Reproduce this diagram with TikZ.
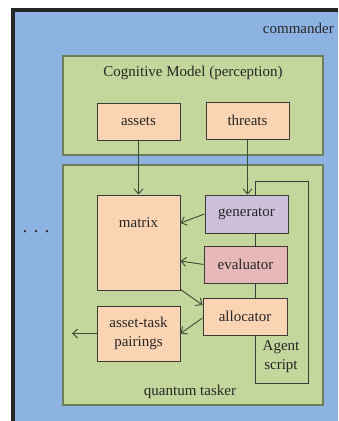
\documentclass[tikz,border=0pt]{standalone}
\usepackage{fontspec}
\setmainfont{Liberation Serif}
\usetikzlibrary{arrows.meta,calc}
\definecolor{cblue}{HTML}{8DB3E2}
\definecolor{cgreen}{HTML}{C3D69B}
\definecolor{cpeach}{HTML}{FBD4B4}
\definecolor{clav}{HTML}{CCC0DA}
\definecolor{cpink}{HTML}{E6B9B8}
\definecolor{cedge}{HTML}{3A3A3A}
\definecolor{gedge}{HTML}{6E7D5A}
\definecolor{carrow}{HTML}{3B4A35}
\definecolor{ctext}{HTML}{262626}
\tikzset{
  lbl/.style={font=\fontsize{15}{19}\selectfont, text=ctext, inner sep=0pt, align=center},
  box/.style={draw=cedge, line width=1pt, inner sep=0pt, lbl},
  gbox/.style={draw=gedge, fill=cgreen, line width=1.2pt},
  conn/.style={draw=carrow, line width=0.9pt, -{Straight Barb[length=5pt,width=9pt]}}
}
\begin{document}
\begin{tikzpicture}[x=1pt,y=-1pt]
\useasboundingbox (0,0) rectangle (338,421);
% commander background
\fill[cblue] (13,9) rectangle (338,421);
\fill[black!85] (11,8) rectangle (338,11.5);
\fill[black!85] (11,8) rectangle (15,421);
\node[lbl, anchor=east] (cmd) at (334,28) {commander};
% cognitive model
\draw[gbox] (63,56) rectangle (323,155);
\node[lbl] (cog) at (193,73) {Cognitive Model (perception)};
% quantum tasker
\draw[gbox] (63,165) rectangle (323,405);
\node[lbl] (qt) at (190,392) {quantum tasker};
% agent script frame
\draw[draw=cedge, line width=1pt] (255,181) rectangle (308,383);
\node[lbl] (agent) at (281,357) {Agent\\script};
% dots
\node[lbl, font=\fontsize{19}{19}\selectfont, anchor=base] (dots) at (36,232) {.\,\,.\,\,.};
% boxes
\node[box, fill=cpeach, minimum width=83pt, minimum height=37pt] (assets) at (138.5,121.5) {assets};
\node[box, fill=cpeach, minimum width=83pt, minimum height=37pt] (threats) at (247.5,120.5) {threats};
\node[box, fill=cpeach, minimum width=83pt, minimum height=95pt] (matrix) at (138.5,242.5) {};
\node[lbl] (mtxt) at (138.5,223) {matrix};
\node[box, fill=clav, minimum width=83pt, minimum height=38pt] (gen) at (246.5,214) {generator};
\node[box, fill=cpink, minimum width=83pt, minimum height=37pt] (eval) at (245.5,264.5) {evaluator};
\node[box, fill=cpeach, minimum width=84pt, minimum height=37pt] (alloc) at (245,316.5) {allocator};
\node[box, fill=cpeach, minimum width=83pt, minimum height=55pt] (pair) at (138.5,333.5) {asset-task\\pairings};
\coordinate (out) at (72,333.5);
% connectors
\draw[conn] (assets.south) -- (matrix.north);
\draw[conn] (threats.south) -- (threats.south |- gen.north);
\draw[conn] (gen.west) -- ([yshift=19.5pt]matrix.east);
\draw[conn] (eval.west) -- ([yshift=-18.5pt]matrix.east);
\draw[conn] ([yshift=1pt]matrix.south east) -- ([yshift=11.5pt]alloc.west);
\draw[conn] ([yshift=-1.5pt]alloc.west) -- (pair.east);
\draw[conn] (pair.west) -- (out);
\end{tikzpicture}
\end{document}
